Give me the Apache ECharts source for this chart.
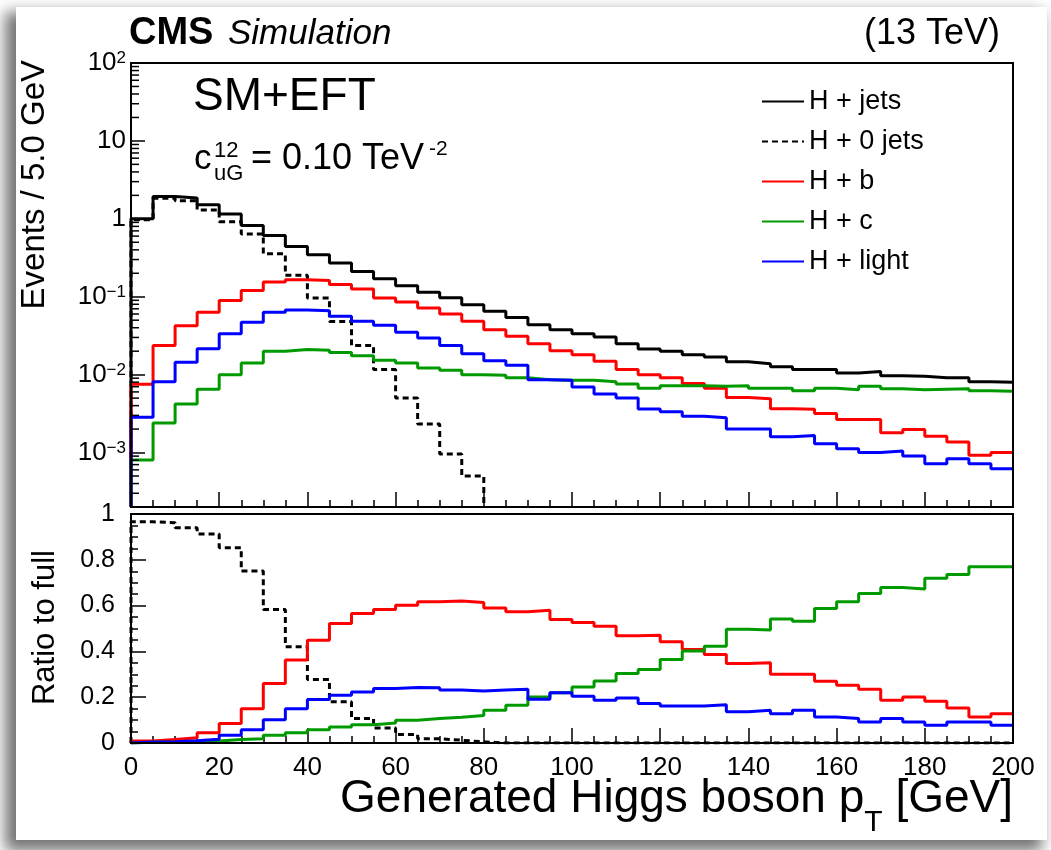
<!DOCTYPE html>
<html>
<head>
<meta charset="utf-8">
<script src="https://cdn.jsdelivr.net/npm/echarts@6/dist/echarts.min.js"></script>
<style>
  html, body { margin: 0; padding: 0; background: #ffffff; }
  #card {
    position: absolute; left: 16px; top: 7px; width: 1031px; height: 833px;
    background: #ffffff;
    box-shadow: -8px 8px 14px 3px rgba(0, 0, 0, 0.55);
  }
  #chart { position: absolute; left: 0; top: 0; width: 1051px; height: 850px; }
</style>
</head>
<body>
<div id="card"></div>
<div id="chart"></div>
<script>
// Generated Higgs boson pT, 5 GeV bins from 0 to 200 GeV
const binWidth = 5;
const nBins = 40;

// Events / 5.0 GeV (upper panel)
const hJets = [1.0, 1.93, 1.85, 1.51, 1.15, 0.82, 0.61, 0.44, 0.345, 0.27,
  0.211, 0.170, 0.138, 0.114, 0.097, 0.079, 0.065, 0.054, 0.0437, 0.0378,
  0.0336, 0.0304, 0.025, 0.0213, 0.0199, 0.018, 0.0169, 0.0146, 0.0138, 0.0126,
  0.0116, 0.0116, 0.0105, 0.011, 0.0097, 0.0095, 0.0091, 0.0091, 0.0081, 0.008];
const h0Jets = [0.97, 1.83, 1.70, 1.30, 0.92, 0.64, 0.356, 0.188, 0.096, 0.048,
  0.0236, 0.0116, 0.005, 0.00233, 0.00096, 0.0005, 0, 0, 0, 0,
  0, 0, 0, 0, 0, 0, 0, 0, 0, 0,
  0, 0, 0, 0, 0, 0, 0, 0, 0, 0];
const hB = [0.0075, 0.0236, 0.0425, 0.063, 0.0897, 0.12, 0.154, 0.165, 0.162, 0.143,
  0.126, 0.096, 0.0855, 0.0716, 0.06, 0.0483, 0.0378, 0.031, 0.025, 0.0203,
  0.018, 0.0148, 0.0116, 0.01, 0.0091, 0.0077, 0.0067, 0.0051, 0.0049, 0.00366,
  0.0036, 0.00316, 0.00265, 0.00265, 0.00179, 0.00197, 0.00162, 0.00137, 0.00092, 0.001];
const hC = [0.0008, 0.0024, 0.0042, 0.0065, 0.01, 0.0141, 0.0199, 0.021, 0.0205, 0.0193,
  0.0175, 0.0153, 0.0141, 0.0122, 0.0114, 0.01, 0.0098, 0.0091, 0.0086, 0.0085,
  0.0085, 0.0081, 0.0076, 0.0067, 0.0072, 0.0072, 0.0071, 0.0072, 0.0067, 0.0067,
  0.0062, 0.0067, 0.0064, 0.0071, 0.0066, 0.0064, 0.0065, 0.0066, 0.0062, 0.0061];
const hLight = [0.00284, 0.0081, 0.0144, 0.0215, 0.0336, 0.0469, 0.063, 0.0675, 0.066, 0.056,
  0.0483, 0.0429, 0.0349, 0.0295, 0.0236, 0.0186, 0.0151, 0.0132, 0.0086, 0.0085,
  0.00695, 0.00565, 0.005, 0.00363, 0.00333, 0.00292, 0.0028, 0.002, 0.002, 0.0016,
  0.00165, 0.0013, 0.00112, 0.001, 0.00105, 0.0009, 0.00072, 0.00083, 0.00072, 0.00062];

// Ratio to full (lower panel)
const r0Jets = [0.966, 0.962, 0.94, 0.913, 0.853, 0.751, 0.583, 0.42, 0.277, 0.18,
  0.107, 0.066, 0.037, 0.019, 0.012, 0.005, 0, 0, 0, 0,
  0, 0, 0, 0, 0, 0, 0, 0, 0, 0,
  0, 0, 0, 0, 0, 0, 0, 0, 0, 0];
const rB = [0.009, 0.015, 0.023, 0.045, 0.085, 0.15, 0.26, 0.362, 0.449, 0.522,
  0.566, 0.583, 0.602, 0.617, 0.62, 0.614, 0.59, 0.573, 0.58, 0.539,
  0.526, 0.51, 0.468, 0.47, 0.442, 0.408, 0.386, 0.347, 0.35, 0.30,
  0.30, 0.27, 0.252, 0.235, 0.187, 0.201, 0.182, 0.153, 0.114, 0.128];
const rC = [0.003, 0.004, 0.006, 0.009, 0.015, 0.019, 0.034, 0.045, 0.058, 0.07,
  0.08, 0.087, 0.099, 0.107, 0.112, 0.12, 0.143, 0.165, 0.201, 0.219,
  0.245, 0.271, 0.303, 0.321, 0.365, 0.402, 0.423, 0.497, 0.493, 0.541,
  0.532, 0.587, 0.617, 0.653, 0.679, 0.673, 0.719, 0.736, 0.77, 0.77];
const rLight = [0.004, 0.006, 0.01, 0.016, 0.034, 0.058, 0.102, 0.15, 0.19, 0.209,
  0.223, 0.238, 0.242, 0.241, 0.231, 0.227, 0.231, 0.235, 0.191, 0.219,
  0.204, 0.187, 0.197, 0.172, 0.162, 0.162, 0.167, 0.136, 0.143, 0.128,
  0.143, 0.114, 0.107, 0.092, 0.107, 0.092, 0.078, 0.092, 0.092, 0.078];

const seriesNames = ['H + jets', 'H + 0 jets', 'H + b', 'H + c', 'H + light'];
const xTicks = [0, 20, 40, 60, 80, 100, 120, 140, 160, 180, 200];

const FONT = '"Liberation Sans", Arial, Helvetica, sans-serif';
const LOG_MIN = 2e-4, LOG_MAX = 100;
const colors = { jets: '#000000', b: '#ff0000', c: '#009a00', light: '#0000ff' };

// Bin edges and step outline of a histogram (ROOT "hist" style)
const edges = Array.from({ length: nBins + 1 }, (_, i) => i * binWidth);
function histSteps(vals, floor) {
  const pts = [[edges[0], floor]];
  for (let i = 0; i < vals.length; i++) {
    const v = vals[i];
    if (floor > 0 && !(v > 0)) { pts.push([edges[i], floor]); return pts; }
    pts.push([edges[i], v], [edges[i + 1], v]);
  }
  return pts;
}

// Log-axis minor tick positions (2..9 x 10^k)
const logMinor = [];
for (let k = -4; k <= 1; k++) {
  for (let m = 2; m <= 9; m++) {
    const v = m * Math.pow(10, k);
    if (v > LOG_MIN && v < LOG_MAX) logMinor.push([0, v]);
  }
}

function lineSeries(name, data, color, xi, dashed) {
  return {
    name, type: 'line', xAxisIndex: xi, yAxisIndex: xi, data,
    symbol: 'none', clip: true, silent: true,
    lineStyle: { color, width: 3, type: dashed ? [6, 4] : 'solid' },
    itemStyle: { color },
    z: 3
  };
}

const tickStyle = { color: '#000', width: 1.5 };

const chart = echarts.init(document.getElementById('chart'), null, { renderer: 'canvas' });
chart.setOption({
  animation: false,
  backgroundColor: 'transparent',
  textStyle: { fontFamily: FONT, color: '#000' },
  grid: [
    { left: 131, right: 38, top: 63, height: 444, show: true, borderColor: '#000', borderWidth: 2, backgroundColor: 'transparent', z: 5 },
    { left: 131, right: 38, top: 514, height: 229, show: true, borderColor: '#000', borderWidth: 2, backgroundColor: 'transparent', z: 5 }
  ],
  xAxis: [
    { type: 'value', gridIndex: 0, min: 0, max: 200, interval: 20,
      axisLine: { show: false }, splitLine: { show: false },
      axisLabel: { show: false },
      axisTick: { inside: true, length: 15, lineStyle: tickStyle },
      minorTick: { show: true, splitNumber: 4, length: 7, lineStyle: tickStyle } },
    { type: 'value', gridIndex: 1, min: 0, max: 200, interval: 20,
      axisLine: { show: false }, splitLine: { show: false },
      axisLabel: { show: true, fontSize: 26, fontFamily: FONT, color: '#000', margin: 12,
        formatter: v => (xTicks.indexOf(v) >= 0 ? String(v) : '') },
      axisTick: { inside: true, length: 15, lineStyle: tickStyle },
      minorTick: { show: true, splitNumber: 4, length: 7, lineStyle: tickStyle } }
  ],
  yAxis: [
    { type: 'log', gridIndex: 0, logBase: 10, min: LOG_MIN, max: LOG_MAX, splitNumber: 6,
      axisLine: { show: false }, splitLine: { show: false },
      axisTick: { inside: true, length: 14, lineStyle: tickStyle },
      axisLabel: {
        margin: 5, fontSize: 26, fontFamily: FONT, color: '#000',
        formatter: v => {
          const e = Math.log10(v), k = Math.round(e);
          if (Math.abs(e - k) > 1e-6) return '';
          if (k === 0) return '1';
          if (k === 1) return '10';
          return '10{sup|' + (k < 0 ? '\u2212' + (-k) : k) + '}';
        },
        rich: { sup: { fontSize: 17, fontFamily: FONT, color: '#000', verticalAlign: 'top', lineHeight: 17 } }
      } },
    { type: 'value', gridIndex: 1, min: 0, max: 1, interval: 0.2,
      axisLine: { show: false }, splitLine: { show: false },
      axisTick: { inside: true, length: 15, lineStyle: tickStyle },
      minorTick: { show: true, splitNumber: 4, length: 7, lineStyle: tickStyle },
      axisLabel: { margin: 16, fontSize: 25, fontFamily: FONT, color: '#000',
        formatter: v => (v === 0 ? '0' : v === 1 ? '1' : v.toFixed(1)) } }
  ],
  legend: {
    data: seriesNames, orient: 'vertical', left: 756, top: 83,
    itemWidth: 42, itemHeight: 14, itemGap: 13,
    itemStyle: { opacity: 0 },
    textStyle: { fontSize: 27, fontFamily: FONT, color: '#000', lineHeight: 27 },
    selectedMode: false
  },
  series: [
    // upper panel
    lineSeries(seriesNames[0], histSteps(hJets, LOG_MIN), colors.jets, 0, false),
    lineSeries(seriesNames[1], histSteps(h0Jets, LOG_MIN), colors.jets, 0, true),
    lineSeries(seriesNames[2], histSteps(hB, LOG_MIN), colors.b, 0, false),
    lineSeries(seriesNames[3], histSteps(hC, LOG_MIN), colors.c, 0, false),
    lineSeries(seriesNames[4], histSteps(hLight, LOG_MIN), colors.light, 0, false),
    // lower panel (ratio to H + jets)
    lineSeries(seriesNames[1], histSteps(r0Jets, 0), colors.jets, 1, true),
    lineSeries(seriesNames[2], histSteps(rB, 0), colors.b, 1, false),
    lineSeries(seriesNames[3], histSteps(rC, 0), colors.c, 1, false),
    lineSeries(seriesNames[4], histSteps(rLight, 0), colors.light, 1, false),
    // minor ticks of the logarithmic axis
    {
      type: 'custom', name: 'logMinorTicks', xAxisIndex: 0, yAxisIndex: 0, silent: true, z: 6,
      data: logMinor,
      renderItem: (params, api) => {
        const p = api.coord([api.value(0), api.value(1)]);
        return { type: 'line', shape: { x1: p[0], y1: p[1], x2: p[0] + 8, y2: p[1] },
          style: { stroke: '#000', lineWidth: 1.5 } };
      }
    }
  ],
  graphic: [
    { type: 'text', left: 129, top: 15, style: { text: 'CMS', fontSize: 38, fontWeight: 'bold', fontFamily: FONT, fill: '#000' } },
    { type: 'text', left: 228, top: 17, style: { text: 'Simulation', fontSize: 35, fontStyle: 'italic', fontFamily: FONT, fill: '#000' } },
    { type: 'text', right: 51, top: 16, style: { text: '(13 TeV)', fontSize: 36, fontFamily: FONT, fill: '#000' } },
    { type: 'text', left: 193, top: 74, style: { text: 'SM+EFT', fontSize: 46, fontFamily: FONT, fill: '#000' } },
    { type: 'text', left: 194, top: 142, style: { text: 'c', fontSize: 35, fontFamily: FONT, fill: '#000' } },
    { type: 'text', left: 214, top: 140, style: { text: '12', fontSize: 22, fontFamily: FONT, fill: '#000' } },
    { type: 'text', left: 214, top: 163, style: { text: 'uG', fontSize: 22, fontFamily: FONT, fill: '#000' } },
    { type: 'text', left: 251, top: 141, style: { text: '= 0.10 TeV', fontSize: 36, fontFamily: FONT, fill: '#000' } },
    { type: 'text', left: 429, top: 139, style: { text: '-2', fontSize: 21, fontFamily: FONT, fill: '#000' } },
    { type: 'text', x: 35, y: 60, rotation: Math.PI / 2, style: {
        text: 'Events / 5.0 GeV', fontSize: 33, fontFamily: FONT, fill: '#000', align: 'right', verticalAlign: 'middle' } },
    { type: 'text', x: 45, y: 550, rotation: Math.PI / 2, style: {
        text: 'Ratio to full', fontSize: 31, fontFamily: FONT, fill: '#000', align: 'right', verticalAlign: 'middle' } },
    { type: 'text', x: 1013, y: 776, style: {
        text: '{m|Generated Higgs boson p}{s|T}{m| [GeV]}', fill: '#000',
        align: 'right', verticalAlign: 'top',
        rich: {
          m: { fontSize: 46, lineHeight: 46, fontFamily: FONT, verticalAlign: 'top' },
          s: { fontSize: 30, lineHeight: 30, fontFamily: FONT, verticalAlign: 'top', padding: [32, 0, 0, 0] }
        } } }
  ]
});
</script>
</body>
</html>
